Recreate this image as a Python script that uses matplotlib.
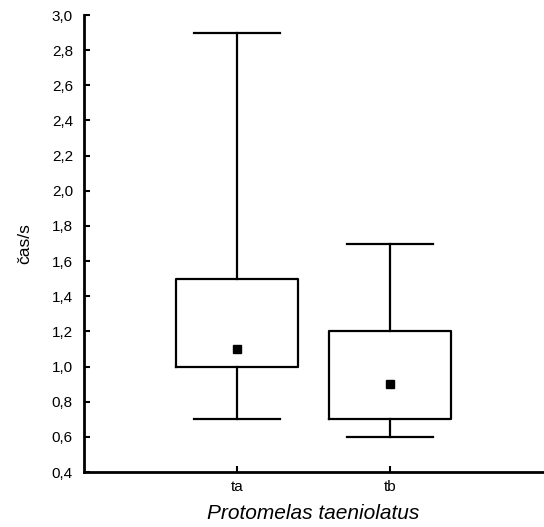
import matplotlib
matplotlib.use("Agg")
import matplotlib.pyplot as plt
import numpy as np

categories = ["ta", "tb"]
whisker_low = [0.7, 0.6]
box_low = [1.0, 0.7]
center = [1.1, 0.9]
box_high = [1.5, 1.2]
whisker_high = [2.9, 1.7]
y_ticks = [0.4, 0.6, 0.8, 1.0, 1.2, 1.4, 1.6, 1.8, 2.0, 2.2, 2.4, 2.6, 2.8, 3.0]

plt.rcParams['font.family'] = ['Liberation Sans', 'DejaVu Sans']

fig = plt.figure(figsize=(5.44, 5.27), dpi=100)
ax = fig.add_axes([84/544, 1-472/527, 459/544, 457/527])

stats = []
for i, c in enumerate(categories):
    stats.append(dict(label=c, whislo=whisker_low[i], q1=box_low[i], med=center[i],
                      q3=box_high[i], whishi=whisker_high[i], fliers=[], mean=center[i]))

lw = 1.6
ax.bxp(stats, positions=[1, 2], widths=0.8, capwidths=0.56, showmeans=True,
       boxprops=dict(color='black', linewidth=lw),
       whiskerprops=dict(color='black', linewidth=lw),
       capprops=dict(color='black', linewidth=lw),
       medianprops=dict(linewidth=0),
       meanprops=dict(marker='s', markerfacecolor='black', markeredgecolor='black', markersize=6))

ax.set_xlim(0, 3)
ax.set_ylim(0.4, 3.0)
ax.set_yticks(y_ticks)
ax.set_yticklabels([f"{v:.1f}".replace('.', ',') for v in y_ticks], fontsize=11)
ax.set_xticks([1, 2])
ax.set_xticklabels(categories, fontsize=11)
ax.tick_params(direction='in', length=4, width=1.5)
ax.tick_params(axis='y', pad=8)
ax.tick_params(axis='x', pad=6)
for s in ['top', 'right']:
    ax.spines[s].set_visible(False)
for s in ['left', 'bottom']:
    ax.spines[s].set_linewidth(2)
ax.set_ylabel("čas/s", fontsize=12.5, labelpad=14)
ax.set_xlabel("Protomelas taeniolatus", fontsize=15, style='italic', labelpad=7)

fig.savefig("out.png", dpi=100)
